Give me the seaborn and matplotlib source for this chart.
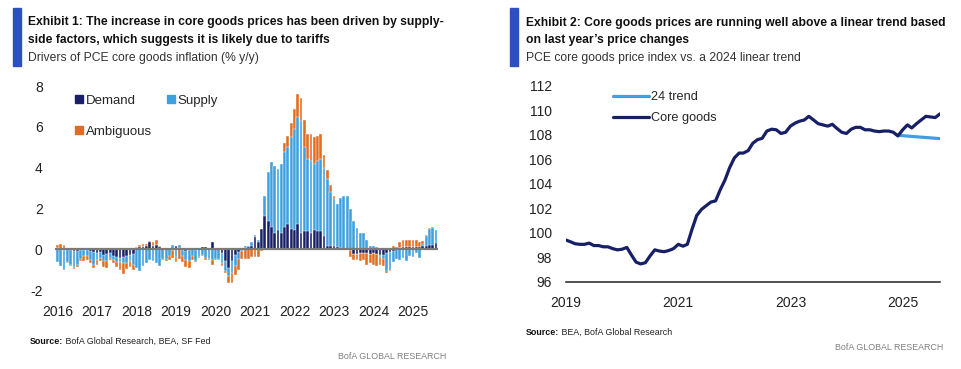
import numpy as np
import pandas as pd
import matplotlib.pyplot as plt
import seaborn as sns
from matplotlib import font_manager
from matplotlib.lines import Line2D
from matplotlib.patches import Rectangle

# --- Exhibit 1: drivers of PCE core goods inflation (% y/y), monthly Jan 2016 - Aug 2025 ---
demand = [
    0.05, 0.0, -0.05, 0.05, -0.05, -0.1, -0.1, -0.05, -0.05, -0.05, -0.1, -0.15,   # 2016
    -0.2, -0.15, -0.3, -0.25, -0.2, -0.35, -0.4, -0.45, -0.4, -0.35, -0.3, -0.25,  # 2017
    0.05, 0.1, 0.1, 0.15, 0.35, 0.15, 0.2, 0.1, 0.05, 0.05, 0.0, -0.05,            # 2018
    0.15, 0.05, -0.05, -0.1, -0.05, 0.0, -0.05, 0.05, 0.1, 0.1, 0.0, 0.35,         # 2019
    0.05, 0.05, -0.2, -0.6, -0.9, -0.6, -0.3, -0.15, 0.0, 0.05, 0.1, 0.15,         # 2020
    0.6, 0.35, 1.0, 1.65, 1.4, 1.1, 0.8, 0.93, 0.8, 1.09, 1.22, 1.0,               # 2021
    0.93, 1.22, 0.8, 0.9, 0.9, 0.8, 0.93, 0.88, 0.88, 0.63, 0.16, 0.15,            # 2022
    0.16, 0.1, 0.05, 0.0, 0.0, -0.05, -0.25, -0.25, -0.2, -0.2, -0.2, -0.25,       # 2023
    -0.2, -0.25, -0.3, -0.3, -0.2, -0.15, -0.1, 0.0, 0.05, 0.1, 0.1, 0.12,         # 2024
    0.1, 0.12, 0.1, 0.15, 0.15, 0.2, 0.2, 0.3,                                     # 2025
]
supply = [
    -0.65, -0.8, -0.95, -0.65, -0.7, -0.75, -0.65, -0.45, -0.3, -0.3, -0.45, -0.6,
    -0.35, -0.3, -0.3, -0.35, -0.25, -0.2, -0.25, -0.2, -0.3, -0.35, -0.3, -0.5,
    -0.9, -1.05, -0.8, -0.7, -0.55, -0.6, -0.7, -0.8, -0.5, -0.5, -0.35, 0.2,
    -0.4, 0.15, -0.3, -0.45, -0.55, -0.35, -0.55, -0.4, -0.3, -0.45, -0.5, -0.55,
    -0.5, -0.5, -0.5, -0.45, -0.4, -0.55, -0.5, -0.35, -0.1, 0.1, 0.05, 0.2,
    0.1, 0.12, 0.0, 0.95, 2.37, 3.16, 3.3, 3.0, 3.38, 3.66, 3.78, 4.48,
    4.96, 5.27, 5.46, 4.12, 3.52, 3.54, 3.25, 3.42, 3.54, 3.35, 3.29, 2.65,
    2.31, 2.1, 2.47, 2.63, 2.6, 1.98, 1.38, 1.02, 0.81, 0.81, 0.45, 0.16,
    0.15, 0.1, -0.1, -0.2, -0.85, -0.85, -0.55, -0.5, -0.55, -0.45, -0.6, -0.35,
    -0.4, -0.2, -0.45, 0.1, 0.5, 0.8, 0.85, 0.65,
]
ambiguous = [
    0.15, 0.25, 0.2, -0.05, -0.05, -0.1, -0.1, -0.1, -0.25, -0.2, -0.15, -0.15,
    -0.2, -0.15, -0.25, -0.3, -0.1, -0.15, -0.2, -0.35, -0.5, -0.25, -0.25, -0.25,
    0.05, 0.1, 0.15, 0.1, 0.05, 0.2, 0.25, 0.05, -0.05, -0.1, -0.2, -0.4,
    -0.25, -0.5, -0.3, -0.3, -0.3, -0.2, -0.05, -0.05, -0.05, -0.1, -0.05, -0.2,
    -0.05, -0.05, -0.1, -0.1, -0.35, -0.5, -0.45, -0.5, -0.4, -0.5, -0.5, -0.4,
    -0.4, -0.4, -0.1, -0.05, -0.05, -0.05, 0.0, 0.0, 0.0, 0.44, 0.56, 0.72,
    0.97, 1.14, 1.17, 1.31, 1.25, 1.33, 1.3, 1.26, 1.25, 0.65, 0.44, 0.35,
    0.16, 0.0, 0.0, 0.0, 0.0, -0.33, -0.3, -0.3, -0.4, -0.35, -0.55, -0.45,
    -0.55, -0.55, -0.35, -0.3, -0.1, -0.05, 0.15, 0.12, 0.3, 0.33, 0.35, 0.35,
    0.35, 0.32, 0.25, 0.15, 0.05, 0.05, 0.02, 0.0,
]
bar_year_labels = ['2016', '2017', '2018', '2019', '2020', '2021', '2022', '2023', '2024', '2025']

# --- Exhibit 2: PCE core goods price index vs. 2024 linear trend, monthly Jan 2019 - Sep 2025 ---
core_goods = [
    99.4, 99.25, 99.1, 99.05, 99.05, 99.15, 98.95, 98.95, 98.85, 98.85, 98.7, 98.6,
    98.65, 98.8, 98.2, 97.6, 97.45, 97.55, 98.1, 98.6, 98.5, 98.45, 98.55, 98.7,
    99.05, 98.9, 99.05, 100.3, 101.4, 101.9, 102.2, 102.5, 102.6, 103.5, 104.3, 105.3,
    106.1, 106.5, 106.5, 106.7, 107.3, 107.6, 107.7, 108.3, 108.45, 108.4, 108.1, 108.2,
    108.7, 108.95, 109.1, 109.2, 109.5, 109.2, 108.9, 108.8, 108.7, 108.85, 108.5, 108.2,
    108.1, 108.45, 108.6, 108.6, 108.4, 108.4, 108.3, 108.25, 108.3, 108.3, 108.2, 107.9,
    108.4, 108.8, 108.55, 108.9, 109.2, 109.5, 109.45, 109.4, 109.7,
]
trend_24 = [107.95, 107.92, 107.89, 107.86, 107.83, 107.8, 107.77, 107.74, 107.71, 107.68]  # Dec 2024 - Sep 2025
line_year_labels = ['2019', '2021', '2023', '2025']

# colours
NAVY = '#171F66'
LIGHT_BLUE = '#3EA0DF'
ORANGE = '#E36C1F'
SIDE_BLUE = '#2C4FC3'

sns.set_theme(style='white')
names = {f.name for f in font_manager.fontManager.ttflist}
FONT = 'Liberation Sans Narrow' if 'Liberation Sans Narrow' in names else 'Liberation Sans'
plt.rcParams['font.family'] = [FONT, 'DejaVu Sans']

W, H = 961, 369
fig = plt.figure(figsize=(W / 100, H / 100), dpi=100)


def fx(x):
    return x / W


def fy(y):
    return 1 - y / H


# --- Left panel: stacked bars (positive and negative parts stacked separately) ---
bars = pd.DataFrame({
    'month': pd.date_range('2016-01-01', periods=len(demand), freq='MS').strftime('%Y-%m'),
    'demand': demand, 'supply': supply, 'ambiguous': ambiguous,
})
pos = bars[['demand', 'supply', 'ambiguous']].clip(lower=0).cumsum(axis=1)
neg = bars[['demand', 'supply', 'ambiguous']].clip(upper=0).cumsum(axis=1)

ax1 = fig.add_axes([fx(55.2), fy(290), fx(438.3) - fx(55.2), fy(86) - fy(290)])
for col, colour in [('ambiguous', ORANGE), ('supply', LIGHT_BLUE), ('demand', NAVY)]:
    for side in (pos, neg):
        sns.barplot(x=bars['month'], y=side[col], color=colour, width=0.85,
                    edgecolor='white', linewidth=0.3, saturation=1, ax=ax1)
ax1.axhline(0, color='#7a7a7a', lw=1.6, zorder=5)
ax1.set_ylim(-2, 8)
ax1.set_xlim(-0.7, len(demand) - 0.3)
ax1.set_yticks([-2, 0, 2, 4, 6, 8])
ax1.set_yticklabels(['-2', '0', '2', '4', '6', '8'])
ax1.set_xticks(range(0, len(demand), 12))
ax1.set_xticklabels(bar_year_labels)
ax1.set_xlabel('')
ax1.set_ylabel('')
ax1.tick_params(axis='y', length=0, pad=9, labelsize=10, colors='#222222')
ax1.tick_params(axis='x', length=0, pad=11, labelsize=10, colors='#222222')
sns.despine(ax=ax1, left=True, bottom=True)

handles = [Line2D([], [], marker='s', ls='', color=c, markersize=5.5)
           for c in (NAVY, ORANGE, LIGHT_BLUE)]
ax1.legend(handles, ['Demand', 'Ambiguous', 'Supply'], ncol=2, loc='upper left',
           bbox_to_anchor=(0.014, 1.015), frameon=False, fontsize=9.5,
           handletextpad=0.0, columnspacing=0.95, labelspacing=1.4, handlelength=1.0)

# --- Right panel: index vs trend ---
line_df = pd.DataFrame({
    'date': pd.date_range('2019-01-01', periods=len(core_goods), freq='MS'),
    'core': core_goods,
})
trend_df = pd.DataFrame({
    'date': pd.date_range('2024-12-01', periods=len(trend_24), freq='MS'),
    'trend': trend_24,
})
ax2 = fig.add_axes([fx(566), fy(281.7), fx(940) - fx(566), fy(85.7) - fy(281.7)])
sns.lineplot(data=trend_df, x='date', y='trend', color=LIGHT_BLUE, lw=2.3, ax=ax2, label='24 trend')
sns.lineplot(data=line_df, x='date', y='core', color=NAVY, lw=2.3, ax=ax2, label='Core goods')
ax2.set_xlim(line_df['date'].iloc[0], line_df['date'].iloc[-1])
ax2.set_ylim(96, 112)
ax2.set_yticks(range(96, 113, 2))
ax2.set_xticks(pd.to_datetime([y + '-01-01' for y in line_year_labels]))
ax2.set_xticklabels(line_year_labels)
ax2.set_xlabel('')
ax2.set_ylabel('')
ax2.tick_params(axis='y', length=0, pad=10, labelsize=10, colors='#222222')
ax2.tick_params(axis='x', length=0, pad=10, labelsize=10, colors='#222222')
sns.despine(ax=ax2, left=True)
ax2.spines['bottom'].set_color('#222222')
ax2.spines['bottom'].set_linewidth(1.1)
ax2.legend(loc='upper left', bbox_to_anchor=(0.096, 1.03), frameon=False, fontsize=9.2,
           handlelength=2.8, handletextpad=0.15, labelspacing=0.69)

# --- Titles, sources ---
for x0 in (13, 510):
    fig.patches.append(Rectangle((fx(x0), fy(66)), fx(8), fy(8) - fy(66),
                                 transform=fig.transFigure, color=SIDE_BLUE))

TS = 8.75
fig.text(fx(28), fy(25), 'Exhibit 1: The increase in core goods prices has been driven by supply-',
         fontsize=TS, fontweight='bold', color='#111111')
fig.text(fx(28), fy(43), 'side factors, which suggests it is likely due to tariffs',
         fontsize=TS, fontweight='bold', color='#111111')
fig.text(fx(28), fy(61), 'Drivers of PCE core goods inflation (% y/y)', fontsize=TS, color='#333333')

fig.text(fx(526), fy(26), 'Exhibit 2: Core goods prices are running well above a linear trend based',
         fontsize=TS, fontweight='bold', color='#111111')
fig.text(fx(526), fy(43), 'on last year\u2019s price changes', fontsize=TS, fontweight='bold', color='#111111')
fig.text(fx(526), fy(61), 'PCE core goods price index vs. a 2024 linear trend', fontsize=TS, color='#333333')

renderer = fig.canvas.get_renderer()
for x0, y0, rest in ((30, 344, ' BofA Global Research, BEA, SF Fed'), (526, 335, ' BEA, BofA Global Research')):
    t = fig.text(fx(x0), fy(y0), 'Source:', fontsize=6.4, fontweight='bold', color='#111111')
    bb = t.get_window_extent(renderer)
    fig.text(bb.x1 / fig.dpi / fig.get_figwidth(), fy(y0), rest, fontsize=6.4, color='#222222')

fig.text(fx(446), fy(359), 'BofA GLOBAL RESEARCH', fontsize=6.4, color='#808080', ha='right')
fig.text(fx(943), fy(350), 'BofA GLOBAL RESEARCH', fontsize=6.4, color='#808080', ha='right')

fig.savefig('out.png', dpi=100)
